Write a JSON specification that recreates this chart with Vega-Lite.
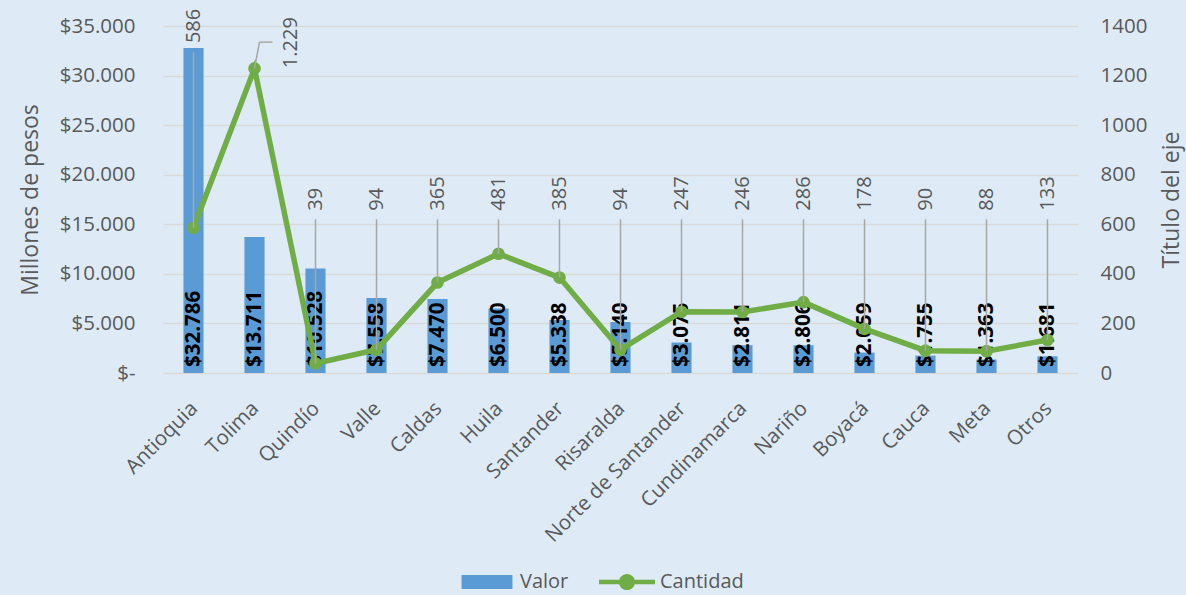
{
  "$schema": "https://vega.github.io/schema/vega-lite/v6.json",
  "width": 915,
  "height": 347,
  "autosize": {"type": "none"},
  "padding": {"left": 163, "top": 26, "right": 108, "bottom": 222},
  "background": "#deebf7",
  "config": {
    "view": {"stroke": null},
    "font": "Open Sans",
    "locale": {"number": {"decimal": ",", "thousands": ".", "grouping": [3], "currency": ["$", ""]}},
    "axis": {
      "labelFont": "Open Sans",
      "titleFont": "Open Sans",
      "labelColor": "#595959",
      "titleColor": "#595959",
      "titleFontWeight": "normal",
      "gridColor": "#d9d9d9",
      "gridWidth": 1.5,
      "domain": false,
      "ticks": false,
      "tickSize": 0
    }
  },
  "data": {
    "values": [
      {"Departamento": "Antioquia", "Valor": 32786, "Cantidad": 586},
      {"Departamento": "Tolima", "Valor": 13711, "Cantidad": 1229},
      {"Departamento": "Quindío", "Valor": 10528, "Cantidad": 39},
      {"Departamento": "Valle", "Valor": 7558, "Cantidad": 94},
      {"Departamento": "Caldas", "Valor": 7470, "Cantidad": 365},
      {"Departamento": "Huila", "Valor": 6500, "Cantidad": 481},
      {"Departamento": "Santander", "Valor": 5338, "Cantidad": 385},
      {"Departamento": "Risaralda", "Valor": 5140, "Cantidad": 94},
      {"Departamento": "Norte de Santander", "Valor": 3075, "Cantidad": 247},
      {"Departamento": "Cundinamarca", "Valor": 2811, "Cantidad": 246},
      {"Departamento": "Nariño", "Valor": 2806, "Cantidad": 286},
      {"Departamento": "Boyacá", "Valor": 2059, "Cantidad": 178},
      {"Departamento": "Cauca", "Valor": 1755, "Cantidad": 90},
      {"Departamento": "Meta", "Valor": 1363, "Cantidad": 88},
      {"Departamento": "Otros", "Valor": 1681, "Cantidad": 133}
    ]
  },
  "layer": [
    {
      "layer": [
        {
          "mark": {"type": "bar", "color": "#5b9bd5"},
          "encoding": {
            "x": {
              "field": "Departamento", "type": "nominal", "sort": null,
              "scale": {"paddingInner": 0.67},
              "axis": {"title": null, "labelAngle": -45, "labelFontSize": 20.5, "labelPadding": 25, "labelOffset": -6, "labelLimit": 0, "grid": false}
            },
            "y": {
              "field": "Valor", "type": "quantitative",
              "scale": {"domain": [0, 35000], "nice": false},
              "axis": {
                "title": "Millones de pesos",
                "values": [0, 5000, 10000, 15000, 20000, 25000, 30000, 35000],
                "labelExpr": "datum.value === 0 ? '$-' : format(datum.value, '$,.0f')",
                "labelFontSize": 20.5,
                "titleFontSize": 23,
                "labelPadding": 28,
                "titlePadding": 17,
                "grid": true
              }
            },
            "color": {
              "datum": "Valor", "type": "nominal",
              "scale": {"domain": ["Valor", "Cantidad"], "range": ["#5b9bd5", "#70ad47"]},
              "legend": {
                "orient": "none", "legendX": 296, "legendY": 528,
                "direction": "horizontal", "title": null, "padding": 0,
                "symbolSize": 3136, "labelFontSize": 20, "labelColor": "#595959",
                "labelFont": "Open Sans", "labelOffset": 5, "columnPadding": 30,
                "labelLimit": 0,
                "symbolStrokeWidth": 0,
                "encode": {
                  "symbols": {
                    "update": {
                      "shape": {"signal": "datum.value === 'Valor' ? 'M-0.91,-0.25H0.91V0.25H-0.91Z' : 'M-1,-0.08H1V0.08H-1Z M0.29,0 A0.29,0.29 0 1,1 -0.29,0 A0.29,0.29 0 1,1 0.29,0 Z'"},
                      "fill": {"signal": "datum.value === 'Valor' ? '#5b9bd5' : '#70ad47'"},
                      "stroke": {"value": "transparent"},
                      "opacity": {"value": 1},
                      "fillOpacity": {"value": 1}
                    }
                  }
                }
              }
            }
          }
        },
        {
          "mark": {"type": "text", "angle": 270, "align": "left", "baseline": "middle", "dx": 6, "fontSize": 20.5, "fontWeight": "bold", "color": "#000000", "font": "Open Sans"},
          "encoding": {
            "x": {"field": "Departamento", "type": "nominal", "sort": null},
            "y": {"datum": 0, "type": "quantitative"},
            "text": {"field": "Valor", "type": "quantitative", "format": "$,.0f"}
          }
        }
      ]
    },
    {
      "layer": [
        {
          "mark": {"type": "line", "strokeWidth": 5.5},
          "encoding": {
            "x": {"field": "Departamento", "type": "nominal", "sort": null},
            "y": {
              "field": "Cantidad", "type": "quantitative",
              "scale": {"domain": [0, 1400], "nice": false},
              "axis": {
                "orient": "right",
                "title": "Título del eje",
                "titleAngle": 270,
                "values": [0, 200, 400, 600, 800, 1000, 1200, 1400],
                "format": "d",
                "labelFontSize": 20.5,
                "titleFontSize": 23,
                "labelPadding": 22,
                "titlePadding": 37,
                "grid": false
              }
            },
            "color": {"datum": "Cantidad", "type": "nominal"}
          }
        },
        {
          "mark": {"type": "point", "filled": true, "size": 160, "opacity": 1},
          "encoding": {
            "x": {"field": "Departamento", "type": "nominal", "sort": null},
            "y": {"field": "Cantidad", "type": "quantitative"},
            "color": {"datum": "Cantidad", "type": "nominal"}
          }
        },
        {
          "transform": [{"filter": "datum.Cantidad < 500"}],
          "mark": {"type": "rule", "color": "#a6a6a6", "strokeWidth": 1.5},
          "encoding": {
            "x": {"field": "Departamento", "type": "nominal", "sort": null},
            "y": {"field": "Cantidad", "type": "quantitative"},
            "y2": {"datum": 620}
          }
        },
        {
          "transform": [{"filter": "datum.Departamento === 'Antioquia'"}],
          "mark": {"type": "rule", "color": "#a6a6a6", "strokeWidth": 1.5},
          "encoding": {
            "x": {"field": "Departamento", "type": "nominal", "sort": null},
            "y": {"field": "Cantidad", "type": "quantitative"},
            "y2": {"datum": 1295}
          }
        },
        {
          "transform": [{"filter": "datum.Departamento === 'Tolima'"}],
          "mark": {"type": "rule", "color": "#a6a6a6", "strokeWidth": 1.5, "x2Offset": 5},
          "encoding": {
            "x": {"field": "Departamento", "type": "nominal", "sort": null},
            "x2": {"field": "Departamento"},
            "y": {"field": "Cantidad", "type": "quantitative"},
            "y2": {"datum": 1335}
          }
        },
        {
          "transform": [{"filter": "datum.Departamento === 'Tolima'"}],
          "mark": {"type": "rule", "color": "#a6a6a6", "strokeWidth": 1.5, "xOffset": 5, "x2Offset": 18},
          "encoding": {
            "x": {"field": "Departamento", "type": "nominal", "sort": null},
            "x2": {"field": "Departamento"},
            "y": {"datum": 1335, "type": "quantitative"}
          }
        },
        {
          "transform": [{"filter": "datum.Cantidad < 500"}],
          "mark": {"type": "text", "angle": 270, "align": "left", "baseline": "middle", "fontSize": 20, "color": "#595959", "font": "Open Sans"},
          "encoding": {
            "x": {"field": "Departamento", "type": "nominal", "sort": null},
            "y": {"datum": 655, "type": "quantitative"},
            "text": {"field": "Cantidad", "type": "quantitative", "format": ",d"}
          }
        },
        {
          "transform": [{"filter": "datum.Departamento === 'Antioquia'"}],
          "mark": {"type": "text", "angle": 270, "align": "left", "baseline": "middle", "fontSize": 20, "color": "#595959", "font": "Open Sans"},
          "encoding": {
            "x": {"field": "Departamento", "type": "nominal", "sort": null},
            "y": {"datum": 1331, "type": "quantitative"},
            "text": {"field": "Cantidad", "type": "quantitative", "format": ",d"}
          }
        },
        {
          "transform": [{"filter": "datum.Departamento === 'Tolima'"}],
          "mark": {"type": "text", "angle": 270, "align": "left", "baseline": "middle", "fontSize": 20, "color": "#595959", "font": "Open Sans", "xOffset": 36},
          "encoding": {
            "x": {"field": "Departamento", "type": "nominal", "sort": null},
            "y": {"datum": 1230, "type": "quantitative"},
            "text": {"field": "Cantidad", "type": "quantitative", "format": ",d"}
          }
        }
      ]
    }
  ],
  "resolve": {"scale": {"y": "independent"}}
}
